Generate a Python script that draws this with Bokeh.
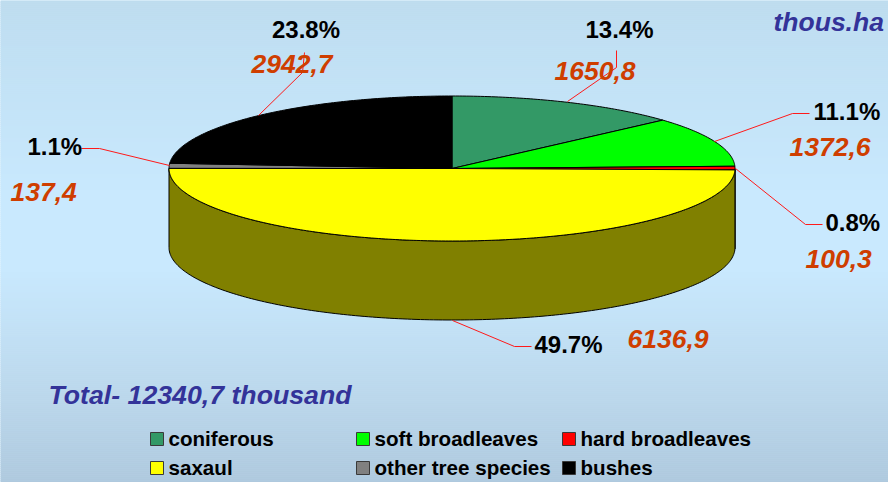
import numpy as np
from bokeh.plotting import figure
from bokeh.models import Range1d
from bokeh.core.properties import value
from bokeh.embed import file_html
from bokeh.resources import INLINE

# ---------- data ----------
categories = ["coniferous", "soft broadleaves", "hard broadleaves", "saxaul", "other tree species", "bushes"]
areas = [1650.8, 1372.6, 100.3, 6136.9, 137.4, 2942.7]
area_labels = ["1650,8", "1372,6", "100,3", "6136,9", "137,4", "2942,7"]
pct_labels = ["13.4%", "11.1%", "0.8%", "49.7%", "1.1%", "23.8%"]
title_text = "Total- 12340,7 thousand"
unit_text = "thous.ha"

# ---------- style ----------
colors = ["#339966", "#00FF00", "#FF0000", "#FFFF00", "#808080", "#000000"]
wall_colors = ["#1A4D33", "#008000", "#800000", "#808000", "#404040", "#000000"]
FONT = value("Liberation Sans")
RED_TXT = "#CF3E00"
BLUE_TXT = "#333399"
LEADER = "#FF1A1A"

# ---------- layout (picture pixels); text y values are digit baselines ----------
CX, CY, RX, RY, DEPTH = 451.5, 168, 283, 72.5, 79
pct_pos = [(585, 38), (813, 120), (825, 231), (534, 353), (27, 155), (271.5, 38)]
val_pos = [(554, 80), (789, 156), (805, 268), (627, 348), (10, 201), (251, 73)]
leaders = [
    [(567, 101), (616, 67), (616, 50)],
    [(714, 141), (792, 113), (809, 113)],
    [(735, 168), (805, 224), (822, 224)],
    [(452, 320), (514, 346), (531, 346)],
    [(169, 165), (99, 148), (81, 148)],
    [(258, 115), (302, 72), (304, 52)],
]
legend_x = [150, 356, 562]
legend_y = [432, 461]
SW = 13

p = figure(width=888, height=482, x_range=Range1d(0, 888), y_range=Range1d(482, 0),
           output_backend="svg", toolbar_location=None, min_border=0,
           outline_line_color=None, background_fill_color="#C9E9FE", border_fill_color=None)
p.axis.visible = False
p.grid.visible = False

# background gradient
stops_y = [0, 30, 190, 270, 400, 482]
stops_r = [190, 192, 201, 201, 187, 175]
stops_g = [220, 223, 233, 233, 215, 201]
stops_b = [238, 242, 254, 254, 235, 222]
rows = np.arange(0, 482, 2)
band_colors = ["#%02X%02X%02X" % (int(np.interp(y, stops_y, stops_r)),
                                  int(np.interp(y, stops_y, stops_g)),
                                  int(np.interp(y, stops_y, stops_b))) for y in rows]
p.quad(left=0, right=888, top=rows, bottom=rows + 2, fill_color=band_colors, line_color=band_colors, line_width=0.5)

# pie geometry from the values
total = sum(areas)
edges = 2 * np.pi * np.concatenate([[0], np.cumsum(areas)]) / total


def px(a):
    return CX + RX * np.sin(a)


def py(a):
    return CY - RY * np.cos(a)


# side walls (only the front half, angle 90..270 degrees)
for k in range(len(areas)):
    lo, hi = max(edges[k], np.pi / 2), min(edges[k + 1], 3 * np.pi / 2)
    if hi <= lo:
        continue
    a = np.linspace(lo, hi, 200)
    xs = np.concatenate([px(a), px(a[::-1])])
    ys = np.concatenate([py(a), py(a[::-1]) + DEPTH])
    p.patch(xs, ys, fill_color=wall_colors[k], line_color="#000000", line_width=1)

# top slices
for k in range(len(areas)):
    n = max(int((edges[k + 1] - edges[k]) * 80), 6)
    a = np.linspace(edges[k], edges[k + 1], n)
    xs = np.concatenate([[CX], px(a)])
    ys = np.concatenate([[CY], py(a)])
    p.patch(xs, ys, fill_color=colors[k], line_color="#000000", line_width=1)

# leaders
for pts in leaders:
    p.line([q[0] for q in pts], [q[1] for q in pts], line_color=LEADER, line_width=1)


def label(xs, ys, texts, size, style, color):
    # baseline -> vertical middle of the digits
    p.text(xs, [y - 0.358 * size for y in ys], text=texts, text_font=FONT, text_font_size=f"{size}px",
           text_font_style=style, text_color=color, text_baseline="middle")


label([q[0] for q in pct_pos], [q[1] for q in pct_pos], pct_labels, 24, "bold", "#000000")
label([q[0] for q in val_pos], [q[1] for q in val_pos], area_labels, 26.5, "bold italic", RED_TXT)
label([48], [404], [title_text], 26.7, "bold italic", BLUE_TXT)
label([773], [31], [unit_text], 26.5, "bold italic", BLUE_TXT)

# legend
for k, name in enumerate(categories):
    col, row = k % 3, k // 3
    x0, y0 = legend_x[col], legend_y[row]
    p.quad(left=[x0], right=[x0 + SW], top=[y0], bottom=[y0 + SW], fill_color=colors[k],
           line_color="#3A3A3A", line_width=1)
    label([x0 + SW + 5], [y0 + 13], [name], 20.6, "bold", "#000000")

open("out.html", "w").write(file_html(p, INLINE))
